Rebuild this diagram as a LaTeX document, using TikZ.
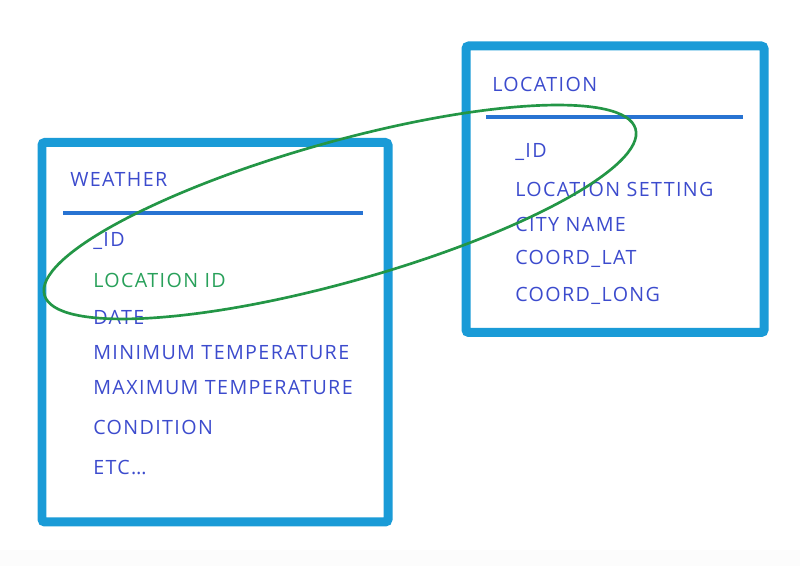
\documentclass[tikz,border=0pt]{standalone}
\usepackage{fontspec}
\setmainfont{Open Sans}[LetterSpace=7.0]
\usepackage{xcolor}
\usepackage{tikz}
\usetikzlibrary{positioning}
\definecolor{boxblue}{RGB}{26,155,215}
\definecolor{ruleblue}{RGB}{40,115,210}
\definecolor{textblue}{RGB}{60,75,205}
\definecolor{textgreen}{RGB}{40,160,90}
\definecolor{linkgreen}{RGB}{35,150,70}
\tikzset{
    % Le cadre de chaque table
    table_box/.style={
        draw=boxblue,
        line width=6.4pt,
        rounded corners=2pt
    },
    % Le trait sous le nom de la table
    table_rule/.style={
        draw=ruleblue,
        line width=2.8pt
    },
    % Les champs (et le titre) de la table
    field/.style={
        anchor=base west,
        inner sep=0pt,
        text=textblue,
        font=\fontsize{14}{16}\selectfont
    },
    % Le champ qui porte la relation
    key_field/.style={
        field,
        text=textgreen
    },
    % L'ellipse qui relie les deux clefs
    relation/.style={
        draw=linkgreen,
        line width=1.9pt
    }
}
\begin{document}
\begin{tikzpicture}
        \useasboundingbox (0,0) rectangle (20,14.15);
        \fill[black!1] (0,0) rectangle (20,0.4);

        % --- 1. Table WEATHER (gauche) ---
        \draw[table_box] (1.05,1.1) rectangle (9.7,10.5875);
        \draw[table_rule] (1.575,8.825) -- (9.075,8.825);
        \node[field] (weather)    at (1.75,9.475) {WEATHER};
        \node[field] (w_id)       at (2.325,7.975) {\_ID};
        \node[key_field] (w_loc)  at (2.325,6.95) {LOCATION ID};
        \node[field] (w_date)     at (2.325,6.025) {DATE};
        \node[field] (w_min)      at (2.325,5.15) {MINIMUM TEMPERATURE};
        \node[field] (w_max)      at (2.325,4.275) {MAXIMUM TEMPERATURE};
        \node[field] (w_cond)     at (2.325,3.275) {CONDITION};
        \node[field] (w_etc)      at (2.325,2.275) {ETC\ldots};

        % --- 2. Table LOCATION (droite) ---
        \draw[table_box] (11.65,5.8375) rectangle (19.1,13.0);
        \draw[table_rule] (12.15,11.225) -- (18.575,11.225);
        \node[field] (location)   at (12.3,11.85) {LOCATION};
        \node[field] (l_id)       at (12.875,10.2) {\_ID};
        \node[field] (l_setting)  at (12.875,9.225) {LOCATION SETTING};
        \node[field] (l_city)     at (12.875,8.35) {CITY NAME};
        \node[field] (l_lat)      at (12.875,7.525) {COORD\_LAT};
        \node[field] (l_long)     at (12.875,6.6) {COORD\_LONG};

        % --- 3. La relation entre les deux clefs ---
        \draw[relation, rotate around={15.7:(8.5,8.85)}]
            (8.5,8.85) ellipse (7.675cm and 1.75cm);
    \end{tikzpicture}
\end{document}
